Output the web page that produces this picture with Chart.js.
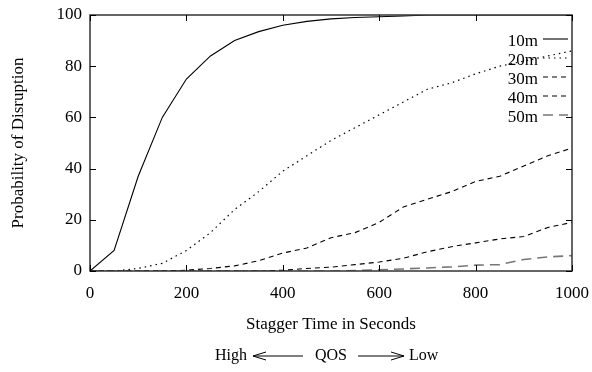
<!DOCTYPE html>
<html>
<head>
<meta charset="utf-8">
<script src="https://cdn.jsdelivr.net/npm/chart.js@4.4.1/dist/chart.umd.min.js"></script>
<style>
  html, body { margin: 0; padding: 0; background: #fff; }
  #wrap { width: 592px; height: 372px; }
</style>
</head>
<body>
<div id="wrap"><canvas id="chart" width="592" height="372"></canvas></div>
<script>
// stagger time (seconds)
const staggerTimes = [0, 50, 100, 150, 200, 250, 300, 350, 400, 450, 500,
                      550, 600, 650, 700, 750, 800, 850, 900, 950, 1000];

// probability of disruption (%) per distance
const prob10m = [0, 8, 37, 60, 75, 84, 90, 93.5, 96, 97.5, 98.5,
                 99, 99.3, 99.6, 100, 100, 100, 100, 100, 100, 100];
const prob20m = [0, 0, 1, 3, 8, 15, 24, 31, 39, 45, 51,
                 56, 61, 66, 71, 73.5, 77, 80, 82, 84, 86];
const prob30m = [0, 0, 0, 0, 0.3, 1, 2, 4, 7, 9, 13,
                 15, 19, 25, 28, 31, 35, 37, 41, 45, 48];
const prob40m = [0, 0, 0, 0, 0, 0, 0, 0, 0.3, 1, 1.5,
                 2.5, 3.5, 5, 7.5, 9.5, 11, 12.5, 13.5, 17, 19];
const prob50m = [0, 0, 0, 0, 0, 0, 0, 0, 0, 0, 0,
                 0.2, 0.5, 0.8, 1.2, 1.6, 2.3, 2.5, 4.5, 5.5, 6];

const seriesLabels = ['10m', '20m', '30m', '40m', '50m'];
const xTicks = [0, 200, 400, 600, 800, 1000];
const yTicks = [0, 20, 40, 60, 80, 100];

const FONT = '"Liberation Serif", "Times New Roman", serif';

const styles = [
    { color: '#000', width: 1.1, dash: [] },
    { color: '#000', width: 1.2, dash: [1.5, 4] },
    { color: '#000', width: 1.1, dash: [5, 4] },
    { color: '#000', width: 1.1, dash: [5, 4] },
    { color: '#777', width: 1.6, dash: [10, 6] }
];

function toPoints(values) {
    return staggerTimes.map((t, i) => ({ x: t, y: values[i] }));
}

const allSeries = [prob10m, prob20m, prob30m, prob40m, prob50m];

// box + inward ticks on all four sides (gnuplot look)
const frame = {
    id: 'frame',
    afterDatasetsDraw(chart) {
        const { ctx, chartArea: a, scales: { x, y } } = chart;
        ctx.save();
        ctx.strokeStyle = '#333';
        ctx.lineWidth = 1.5;
        ctx.setLineDash([]);
        ctx.strokeRect(a.left, a.top, a.right - a.left, a.bottom - a.top);
        ctx.lineWidth = 1;
        ctx.strokeStyle = '#000';
        const len = 6;
        xTicks.forEach(v => {
            const px = Math.round(x.getPixelForValue(v)) + 0.5;
            ctx.beginPath();
            ctx.moveTo(px, a.bottom); ctx.lineTo(px, a.bottom - len);
            ctx.moveTo(px, a.top); ctx.lineTo(px, a.top + len);
            ctx.stroke();
        });
        yTicks.forEach(v => {
            const py = Math.round(y.getPixelForValue(v)) + 0.5;
            ctx.beginPath();
            ctx.moveTo(a.left, py); ctx.lineTo(a.left + len, py);
            ctx.moveTo(a.right, py); ctx.lineTo(a.right - len, py);
            ctx.stroke();
        });
        ctx.restore();
    }
};

// legend: label on the left, line sample on the right
const keyBox = {
    id: 'keyBox',
    afterDraw(chart) {
        const { ctx, chartArea: a } = chart;
        ctx.save();
        ctx.font = '17px ' + FONT;
        ctx.fillStyle = '#000';
        ctx.textAlign = 'right';
        ctx.textBaseline = 'middle';
        const textRight = a.right - 34;
        const lineL = a.right - 29, lineR = a.right - 4;
        seriesLabels.forEach((lab, i) => {
            const yy = a.top + 26 + i * 19;
            ctx.fillText(lab, textRight, yy + 1);
            const s = styles[i];
            ctx.strokeStyle = s.color;
            ctx.lineWidth = s.width;
            ctx.setLineDash(s.dash);
            ctx.beginPath();
            ctx.moveTo(lineL, yy - 2); ctx.lineTo(lineR, yy - 2);
            ctx.stroke();
        });
        ctx.restore();
    }
};

// QOS caption under the axis title
const qosNote = {
    id: 'qosNote',
    afterDraw(chart) {
        const { ctx, chartArea: a } = chart;
        const cx = (a.left + a.right) / 2;
        const yy = 356;
        ctx.save();
        ctx.font = '16px ' + FONT;
        ctx.fillStyle = '#000';
        ctx.textBaseline = 'middle';
        ctx.textAlign = 'center';
        ctx.fillText('QOS', cx, yy);
        ctx.textAlign = 'right';
        ctx.fillText('High', cx - 84, yy);
        ctx.textAlign = 'left';
        ctx.fillText('Low', cx + 78, yy);
        ctx.strokeStyle = '#000';
        ctx.lineWidth = 1;
        ctx.beginPath();
        // left arrow
        ctx.moveTo(cx - 28, yy); ctx.lineTo(cx - 78, yy);
        ctx.moveTo(cx - 78, yy); ctx.lineTo(cx - 65, yy - 4);
        ctx.moveTo(cx - 78, yy); ctx.lineTo(cx - 65, yy + 4);
        // right arrow
        ctx.moveTo(cx + 27, yy); ctx.lineTo(cx + 73, yy);
        ctx.moveTo(cx + 73, yy); ctx.lineTo(cx + 60, yy - 4);
        ctx.moveTo(cx + 73, yy); ctx.lineTo(cx + 60, yy + 4);
        ctx.stroke();
        ctx.restore();
    }
};

new Chart(document.getElementById('chart'), {
    type: 'line',
    data: {
        datasets: allSeries.map((vals, i) => ({
            label: seriesLabels[i],
            data: toPoints(vals),
            borderColor: styles[i].color,
            borderWidth: styles[i].width,
            borderDash: styles[i].dash,
            pointRadius: 0,
            tension: 0,
            fill: false
        }))
    },
    options: {
        responsive: false,
        animation: false,
        layout: { padding: { top: 15, right: 20, bottom: 0, left: 0 } },
        plugins: {
            legend: { display: false },
            tooltip: { enabled: false }
        },
        scales: {
            x: {
                type: 'linear',
                min: 0,
                max: 1000,
                afterBuildTicks: s => { s.ticks = xTicks.map(v => ({ value: v })); },
                afterFit: s => {
                    s.height = 101;
                    s.paddingLeft = 0;
                    s.paddingRight = 0;
                },
                grid: { display: false, drawTicks: false },
                border: { display: false },
                ticks: {
                    color: '#000',
                    font: { family: FONT, size: 17 },
                    padding: 12,
                    maxRotation: 0,
                    callback: v => String(v)
                },
                title: {
                    display: true,
                    text: 'Stagger Time in Seconds',
                    color: '#000',
                    font: { family: FONT, size: 17 },
                    padding: { top: 0, bottom: 37 }
                }
            },
            y: {
                min: 0,
                max: 100,
                afterBuildTicks: s => { s.ticks = yTicks.map(v => ({ value: v })); },
                afterFit: s => {
                    s.width = 90;
                    s.paddingTop = 0;
                    s.paddingBottom = 0;
                },
                grid: { display: false, drawTicks: false },
                border: { display: false },
                ticks: { color: '#000', font: { family: FONT, size: 17 }, padding: 8 },
                title: {
                    display: true,
                    text: 'Probability of Disruption',
                    color: '#000',
                    font: { family: FONT, size: 17 },
                    padding: { top: 8, bottom: 0 }
                }
            }
        }
    },
    plugins: [frame, keyBox, qosNote]
});
</script>
</body>
</html>
